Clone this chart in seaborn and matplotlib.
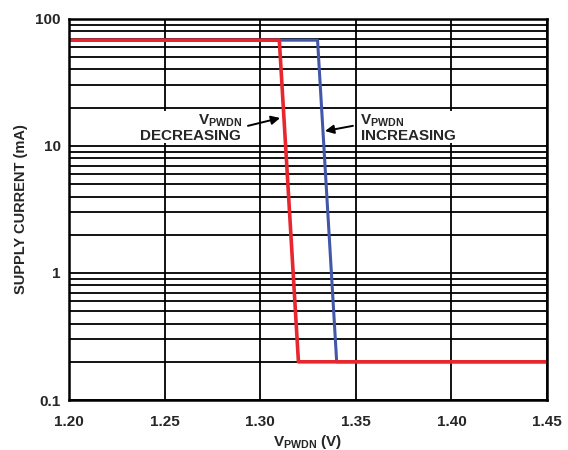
import numpy as np
import pandas as pd
import matplotlib
matplotlib.use("Agg")
import matplotlib.pyplot as plt
import seaborn as sns
from matplotlib.ticker import FixedLocator, FixedFormatter, LogLocator, NullFormatter

# supply current vs V_PWDN
dec_v = [1.20, 1.31, 1.32, 1.45]
dec_i = [68, 68, 0.2, 0.2]
inc_v = [1.20, 1.33, 1.34, 1.45]
inc_i = [68, 68, 0.2, 0.2]

x_ticks = [1.20, 1.25, 1.30, 1.35, 1.40, 1.45]
x_labels = ["1.20", "1.25", "1.30", "1.35", "1.40", "1.45"]
y_ticks = [0.1, 1, 10, 100]
y_labels = ["0.1", "1", "10", "100"]

sns.set_style("white")
plt.rcParams['font.family'] = ['Liberation Sans', 'DejaVu Sans']
plt.rcParams['font.weight'] = 'bold'
plt.rcParams['mathtext.fontset'] = 'custom'
plt.rcParams['mathtext.rm'] = 'Liberation Sans:bold'
plt.rcParams['mathtext.it'] = 'Liberation Sans:bold'
plt.rcParams['mathtext.bf'] = 'Liberation Sans:bold'

df_dec = pd.DataFrame({"v": dec_v, "i": dec_i})
df_inc = pd.DataFrame({"v": inc_v, "i": inc_i})

fig = plt.figure(figsize=(5.68, 4.5), dpi=100)
ax = fig.add_axes([0.1215, 0.111, 0.8415, 0.847])

sns.lineplot(data=df_inc, x="v", y="i", ax=ax, color="#4257a8", linewidth=2.2, sort=False)
sns.lineplot(data=df_dec, x="v", y="i", ax=ax, color="#e8262e", linewidth=2.6, sort=False)

ax.set_yscale("log")
ax.set_xlim(1.20, 1.45)
ax.set_ylim(0.1, 100)

ax.xaxis.set_major_locator(FixedLocator(x_ticks))
ax.xaxis.set_major_formatter(FixedFormatter(x_labels))
ax.yaxis.set_major_locator(FixedLocator(y_ticks))
ax.yaxis.set_major_formatter(FixedFormatter(y_labels))
ax.yaxis.set_minor_locator(LogLocator(base=10, subs=np.arange(2, 10)))
ax.yaxis.set_minor_formatter(NullFormatter())

ax.grid(True, which="major", axis="both", color="black", linewidth=1.3)
ax.grid(True, which="minor", axis="y", color="black", linewidth=1.3)
ax.set_axisbelow(True)
ax.tick_params(which="both", length=0, labelsize=11)
ax.tick_params(axis="x", pad=11)
ax.tick_params(axis="y", pad=6)
for lbl in ax.get_xticklabels() + ax.get_yticklabels():
    lbl.set_fontweight("bold")
for s in ax.spines.values():
    s.set_color("black")
    s.set_linewidth(1.8)

ax.set_xlabel(r"$\mathbf{V_{PWDN}}$ (V)", fontsize=11, fontweight="bold", labelpad=3)
ax.set_ylabel("SUPPLY CURRENT (mA)", fontsize=10.5, fontweight="bold", labelpad=5)

box = dict(boxstyle="square,pad=0.0", fc="white", ec="none")
ax.text(1.2905, 13.9, "$\\mathbf{V_{PWDN}}$\n$\\mathbf{DECREASING}$", fontsize=11,
        ha="right", va="center", ma="right", linespacing=0.95, bbox=box, zorder=3)
ax.text(1.3522, 13.9, "$\\mathbf{V_{PWDN}}$\n$\\mathbf{INCREASING}$", fontsize=11,
        ha="left", va="center", ma="left", linespacing=0.95, bbox=box, zorder=3)

arrow = dict(arrowstyle="-|>", color="black", lw=1.4, mutation_scale=13, shrinkA=0, shrinkB=0)
ax.annotate("", xy=(1.3104, 16.6), xytext=(1.2936, 14.4), arrowprops=arrow, zorder=4)
ax.annotate("", xy=(1.3339, 13.1), xytext=(1.3485, 14.4), arrowprops=arrow, zorder=4)

fig.savefig("out.png", dpi=100)
